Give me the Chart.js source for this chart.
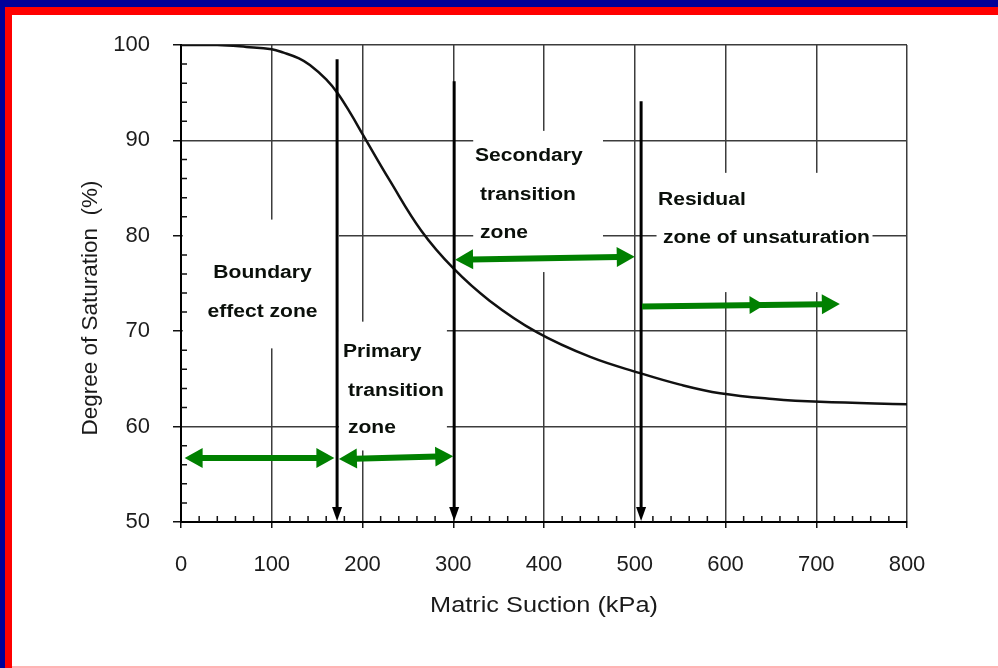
<!doctype html>
<html><head><meta charset="utf-8">
<script src="https://cdn.jsdelivr.net/npm/chart.js@4.4.1/dist/chart.umd.min.js"></script>
<style>
* { margin:0; padding:0; box-sizing:border-box; }
html,body { width:998px; height:668px; overflow:hidden; background:#fff; }
canvas { position:absolute; left:0; top:0; }
.edge { position:absolute; }
.blue-top { left:0; top:0; width:998px; height:7px; background:#000099; }
.blue-left { left:0; top:0; width:5px; height:668px; background:#000099; }
.red-top { left:5px; top:7px; width:993px; height:8px; background:#ff0000; }
.red-left { left:5px; top:7px; width:7px; height:661px; background:#ff0000; }
.red-bottom { left:12px; top:666px; width:986px; height:2px; background:#ffb4b4; }
</style></head>
<body>
<canvas id="chart" width="998" height="668"></canvas>
<div class="edge blue-top"></div><div class="edge blue-left"></div>
<div class="edge red-top"></div><div class="edge red-left"></div><div class="edge red-bottom"></div>
<script>
// soil-water characteristic curve
const suction    = [0, 40, 72, 100, 113, 130, 142, 160, 173, 187, 201, 230, 265, 300, 340, 392, 451, 506, 550, 594, 652, 704, 800];
const saturation = [100, 100, 99.8, 99.55, 99.2, 98.6, 97.9, 96.4, 94.9, 92.8, 90.5, 85.8, 80.5, 76.6, 73.2, 69.9, 67.3, 65.6, 64.4, 63.5, 62.9, 62.6, 62.35];

const xTicks = [0, 100, 200, 300, 400, 500, 600, 700, 800];
const yTicks = [50, 60, 70, 80, 90, 100];

// zone boundaries (black down arrows): suction, top of arrow
const boundX   = [172, 301, 507];
const boundTop = [98.5, 96.2, 94.1];

// green span arrows
const spanFrom    = [4, 174, 302, 508];
const spanTo      = [169, 300, 500, 726];
const spanYFrom   = [56.7, 56.6, 77.5, 72.6];
const spanYTo     = [56.7, 56.9, 77.8, 72.85];
const spanTwoWay  = [true, true, true, false];
const spanMidHead = [null, null, null, 643];

const zoneNames = [
  ['Boundary', 'effect zone'],
  ['Primary', 'transition', 'zone'],
  ['Secondary', 'transition', 'zone'],
  ['Residual', 'zone of unsaturation']
];

// where the labels sit (axis units) and the white boxes behind them
const labelAt = [
  { align:'center', lines:[[89.8, 75.6], [89.8, 71.5]] },
  { align:'left', lines:[[178.5, 67.3], [184, 63.2], [184, 59.3]] },
  { align:'left', lines:[[324, 87.8], [329.5, 83.8], [329.5, 79.8]] },
  { align:'left', lines:[[525.6, 83.2], [531, 79.2]] }
];
const labelBox = [
  [2, 174, 81.7, 68.2],
  [174, 293, 71.0, 57.5],
  [322, 465, 91.0, 76.2],
  [524, 762, 86.6, 74.1]
];

const FONT = "'Liberation Sans', Arial, Helvetica, sans-serif";
const STRETCH = 1.17;

function head(ctx, tx, ty, dx, dy, len, half) {
  ctx.beginPath();
  ctx.moveTo(tx, ty);
  ctx.lineTo(tx - dx * len - dy * half, ty - dy * len + dx * half);
  ctx.lineTo(tx - dx * len + dy * half, ty - dy * len - dx * half);
  ctx.closePath();
  ctx.fill();
}

const zonePlugin = {
  id: 'zones',
  beforeDatasetsDraw(chart) {
    const { ctx, scales: { x, y } } = chart;
    ctx.save();
    // white boxes that hide the grid behind the labels
    ctx.fillStyle = '#fff';
    labelBox.forEach(b => {
      const l = x.getPixelForValue(b[0]), r = x.getPixelForValue(b[1]);
      const t = y.getPixelForValue(b[2]), bt = y.getPixelForValue(b[3]);
      ctx.fillRect(l, t, r - l, bt - t);
    });
    // minor ticks, inside the frame
    ctx.strokeStyle = '#111';
    ctx.lineWidth = 1.5;
    ctx.beginPath();
    for (let v = 52; v < 100; v += 2) {
      if (v % 10 === 0) continue;
      const py = y.getPixelForValue(v);
      ctx.moveTo(chart.chartArea.left, py); ctx.lineTo(chart.chartArea.left + 6, py);
    }
    for (let v = 20; v < 800; v += 20) {
      if (v % 100 === 0) continue;
      const px = x.getPixelForValue(v);
      ctx.moveTo(px, chart.chartArea.bottom); ctx.lineTo(px, chart.chartArea.bottom - 6);
    }
    ctx.stroke();
    // zone labels
    ctx.fillStyle = '#0a0f0a';
    ctx.font = 'bold 18px ' + FONT;
    ctx.textBaseline = 'alphabetic';
    zoneNames.forEach((lines, i) => {
      const spec = labelAt[i];
      ctx.textAlign = spec.align;
      lines.forEach((txt, j) => {
        const p = spec.lines[j];
        ctx.save();
        ctx.translate(x.getPixelForValue(p[0]), y.getPixelForValue(p[1]));
        ctx.scale(STRETCH, 1);
        ctx.fillText(txt, 0, 0);
        ctx.restore();
      });
    });
    ctx.restore();
  },
  afterDatasetsDraw(chart) {
    const { ctx, scales: { x, y } } = chart;
    ctx.save();
    // black boundary arrows
    ctx.strokeStyle = '#000';
    ctx.fillStyle = '#000';
    ctx.lineWidth = 3;
    boundX.forEach((bx, i) => {
      const px = x.getPixelForValue(bx);
      const top = y.getPixelForValue(boundTop[i]);
      const bot = y.getPixelForValue(50) - 1;
      ctx.beginPath(); ctx.moveTo(px, top); ctx.lineTo(px, bot - 10); ctx.stroke();
      head(ctx, px, bot, 0, 1, 14, 5);
    });
    // green span arrows
    ctx.strokeStyle = '#008000';
    ctx.fillStyle = '#008000';
    ctx.lineWidth = 6;
    const HL = 18, HH = 10;
    spanFrom.forEach((f, i) => {
      const x1 = x.getPixelForValue(f), x2 = x.getPixelForValue(spanTo[i]);
      const y1 = y.getPixelForValue(spanYFrom[i]), y2 = y.getPixelForValue(spanYTo[i]);
      const len = Math.hypot(x2 - x1, y2 - y1);
      const dx = (x2 - x1) / len, dy = (y2 - y1) / len;
      const s = spanTwoWay[i] ? HL - 2 : 0;
      ctx.beginPath();
      ctx.moveTo(x1 + dx * s, y1 + dy * s);
      ctx.lineTo(x2 - dx * (HL - 2), y2 - dy * (HL - 2));
      ctx.stroke();
      head(ctx, x2, y2, dx, dy, HL, HH);
      if (spanTwoWay[i]) head(ctx, x1, y1, -dx, -dy, HL, HH);
      if (spanMidHead[i] !== null) {
        const mx = x.getPixelForValue(spanMidHead[i]);
        const t = (mx - x1) / (x2 - x1);
        head(ctx, mx, y1 + (y2 - y1) * t, dx, dy, HL - 3, HH - 1);
      }
    });
    ctx.restore();
  },
  afterDraw(chart) {
    const { ctx } = chart;
    ctx.save();
    ctx.fillStyle = '#1a1a1a';
    ctx.font = '22.5px ' + FONT;
    ctx.textAlign = 'center';
    ctx.textBaseline = 'middle';
    // y axis title
    ctx.save();
    ctx.translate(91, 308);
    ctx.rotate(-Math.PI / 2);
    ctx.fillText('Degree of Saturation  (%)', 0, 0);
    ctx.restore();
    // x axis title
    ctx.save();
    ctx.translate((chart.chartArea.left + chart.chartArea.right) / 2, 606);
    ctx.scale(1.15, 1);
    ctx.font = '22px ' + FONT;
    ctx.fillText('Matric Suction (kPa)', 0, 0);
    ctx.restore();
    ctx.restore();
  }
};

new Chart(document.getElementById('chart'), {
  type: 'line',
  data: {
    datasets: [{
      data: suction.map((s, i) => ({ x: s, y: saturation[i] })),
      borderColor: '#111',
      borderWidth: 2.5,
      pointRadius: 0,
      tension: 0.4,
      fill: false
    }]
  },
  options: {
    responsive: false,
    animation: false,
    devicePixelRatio: 1,
    layout: { padding: { left: 0, right: 91, top: 45, bottom: 0 } },
    plugins: { legend: { display: false }, tooltip: { enabled: false } },
    scales: {
      x: {
        type: 'linear', min: 0, max: 800,
        afterBuildTicks: s => { s.ticks = xTicks.map(v => ({ value: v })); },
        afterFit: s => { s.height = 146; },
        ticks: { color: '#1c1c1c', font: { family: FONT, size: 22 }, padding: 24, maxRotation: 0 },
        grid: { color: '#3c3c3c', lineWidth: 1.5, tickLength: 6, tickColor: '#111' },
        border: { color: '#000', width: 2 }
      },
      y: {
        min: 50, max: 100,
        afterBuildTicks: s => { s.ticks = yTicks.map(v => ({ value: v })); },
        afterFit: s => { s.width = 181; },
        ticks: { color: '#1c1c1c', font: { family: FONT, size: 22 }, padding: 23 },
        grid: { color: '#3c3c3c', lineWidth: 1.5, tickLength: 8, tickColor: '#111' },
        border: { color: '#000', width: 2 }
      }
    }
  },
  plugins: [zonePlugin]
});
</script>
</body></html>
